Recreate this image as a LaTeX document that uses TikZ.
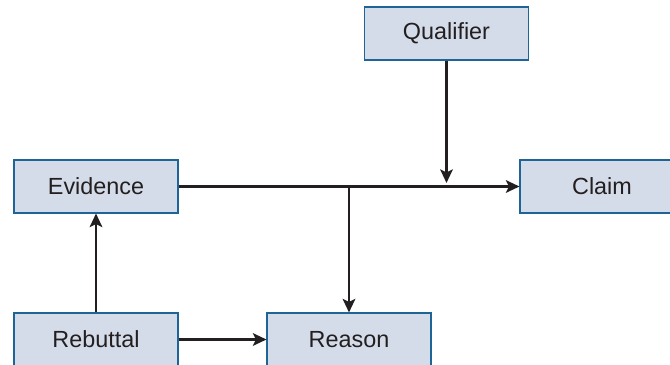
\documentclass[tikz,border=0pt]{standalone}
\usepackage{xcolor}
\usepackage{fontspec}
\setmainfont{Liberation Sans}
\usetikzlibrary{arrows.meta}
\definecolor{boxfill}{RGB}{213,220,233}
\definecolor{boxline}{RGB}{31,100,151}
\definecolor{ink}{RGB}{35,31,32}
\begin{document}
\begin{tikzpicture}[x=0.02cm, y=-0.02cm,
    box/.style={rectangle, draw=boxline, fill=boxfill, line width=0.6pt,
        minimum width=3.28cm, minimum height=1.06cm, inner sep=0pt,
        font=\fontsize{13.3}{16}\selectfont, text=ink},
    link/.style={draw=ink, line width=1.5pt, -{Stealth[length=0.27cm, width=0.25cm, inset=0.06cm]}}]
                        \useasboundingbox (0, 0) rectangle (670, 365);

                        \node (qualifier) at (446.5, 33.5) [box] {Qualifier};
                        \node (evidence) at (96, 186.5) [box] {Evidence};
                        \node (claim) at (602, 186.5) [box] {Claim};
                        \node (rebuttal) at (96, 339.5) [box] {Rebuttal};
                        \node (reason) at (349, 339.5) [box] {Reason};

                        \coordinate (meet) at (qualifier.south |- evidence.east);
                        \coordinate (split) at (reason.north |- evidence.east);

                        \draw [link] (evidence) -- (claim);
                        \draw [link, shorten >=2pt] (qualifier) -- (meet);
                        \draw [link] (split) -- (reason);
                        \draw [link] (rebuttal) -- (evidence);
                        \draw [link] (rebuttal) -- (reason);
                    \end{tikzpicture}
\end{document}
